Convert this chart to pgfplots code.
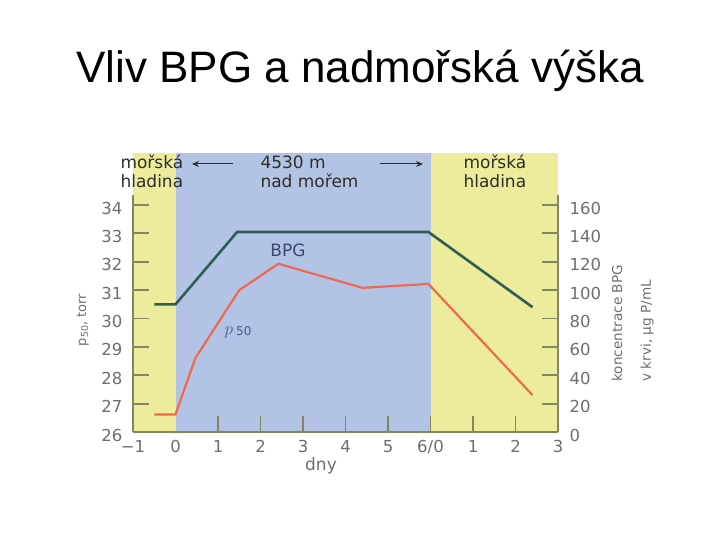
\documentclass[border=0pt]{standalone}
\usepackage{fontspec}
\setmainfont{DejaVu Sans}
\newfontfamily\titlefont{Liberation Sans}
\usepackage{pgfplots}
\pgfplotsset{compat=1.18}
\usetikzlibrary{arrows.meta}

\definecolor{bgyellow}{HTML}{EDEB9C}
\definecolor{bgblue}{HTML}{B3C3E6}
\definecolor{bpggreen}{HTML}{2F5E52}
\definecolor{pred}{HTML}{EE6A4E}
\definecolor{axcol}{HTML}{85855E}
\definecolor{ticklab}{HTML}{6E6E6E}
\definecolor{txtdark}{HTML}{2E2E28}
\definecolor{plabel}{HTML}{4A5A8A}

\begin{document}
\begin{tikzpicture}[x=1pt,y=1pt]
\path[use as bounding box] (0,0) rectangle (720,540);
\node[anchor=base, font=\titlefont\fontsize{44}{48}\selectfont] at (360,457) {Vliv BPG a nadmořská výška};

\begin{axis}[
  at={(133pt,108pt)}, anchor=south west,
  width=425pt, height=236.9pt, scale only axis,
  xmin=-1, xmax=9, ymin=26, ymax=34.35,
  axis x line*=bottom, axis y line*=left,
  axis line style={axcol, line width=1.8pt, -},
  clip=false, axis on top,
  xtick={1,...,8}, xticklabels={1,2,3,4,5,6/0,1,2},
  extra x ticks={-1,0,9}, extra x tick labels={−1,0,3},
  extra x tick style={major tick length=0pt},
  ytick={26,...,34},
  tick align=inside,
  major tick length=16pt,
  tick style={axcol, line width=1.8pt},
  ticklabel style={ticklab, font=\fontsize{16.5}{16.5}\selectfont},
  /pgf/number format/assume math mode=true,
  xticklabel style={yshift=-5pt},
  yticklabel style={xshift=-7pt, yshift=-3pt},
]
\fill[bgyellow] (axis cs:-1,26) rectangle (axis cs:0,35.83);
\fill[bgblue] (axis cs:0,26) rectangle (axis cs:6,35.83);
\fill[bgyellow] (axis cs:6,26) rectangle (axis cs:9,35.83);
\addplot[pred, line width=2.2pt] coordinates {(-0.5,26.62)(0,26.62)(0.47,28.61)(1.5,31.0)(2.42,31.93)(4.4,31.08)(5.95,31.22)(8.4,27.3)};
\end{axis}

\begin{axis}[
  at={(133pt,108pt)}, anchor=south west,
  width=425pt, height=236.9pt, scale only axis,
  xmin=-1, xmax=9, ymin=0, ymax=167,
  axis x line=none, axis y line*=right,
  axis line style={axcol, line width=1.8pt, -},
  clip=false,
  ytick={0,20,...,160},
  tick align=inside,
  major tick length=16pt,
  tick style={axcol, line width=1.8pt},
  ticklabel style={ticklab, font=\fontsize{16.5}{16.5}\selectfont},
  /pgf/number format/assume math mode=true,
  yticklabel style={xshift=8pt, yshift=-3pt},
]
\addplot[bpggreen, line width=2.6pt] coordinates {(-0.5,90)(0,90)(1.45,141)(5.95,141)(8.4,88)};
\end{axis}

% annotations
\node[anchor=base west, text=txtdark, font=\fontsize{17}{17}\selectfont] at (117,371) {mořská};
\node[anchor=base west, text=txtdark, font=\fontsize{17}{17}\selectfont] at (117,352) {hladina};
\node[anchor=base west, text=txtdark, font=\fontsize{17}{17}\selectfont] at (257,371) {4530 m};
\node[anchor=base west, text=txtdark, font=\fontsize{17}{17}\selectfont] at (257,352) {nad mořem};
\node[anchor=base west, text=txtdark, font=\fontsize{17}{17}\selectfont] at (460,371) {mořská};
\node[anchor=base west, text=txtdark, font=\fontsize{17}{17}\selectfont] at (460,352) {hladina};
\draw[-{Stealth[length=7pt,width=6pt]}, line width=1pt, draw=txtdark] (233,376) -- (192,376);
\draw[-{Stealth[length=7pt,width=6pt]}, line width=1pt, draw=txtdark] (380,376) -- (423,376);
\node[anchor=base, text=plabel!80!black, font=\fontsize{17}{17}\selectfont] at (288,283) {BPG};
\node[anchor=center, text=plabel] at (238,208) {\fontsize{19}{19}\selectfont$p$\,\raisebox{-1pt}{\fontsize{12}{12}\selectfont 50}};
\node[anchor=base, text=ticklab, font=\fontsize{17}{17}\selectfont] at (321,69) {dny};
\node[rotate=90, anchor=center, text=ticklab, font=\fontsize{13}{13}\selectfont] at (83,220) {p\raisebox{-2pt}{\fontsize{9.5}{9.5}\selectfont 50}, torr};
\node[rotate=90, anchor=west, text=ticklab, font=\fontsize{13.6}{14}\selectfont] at (617,155) {koncentrace BPG};
\node[rotate=90, anchor=west, text=ticklab, font=\fontsize{13.6}{14}\selectfont] at (647,155) {v krvi, μg P/mL};
\end{tikzpicture}
\end{document}
